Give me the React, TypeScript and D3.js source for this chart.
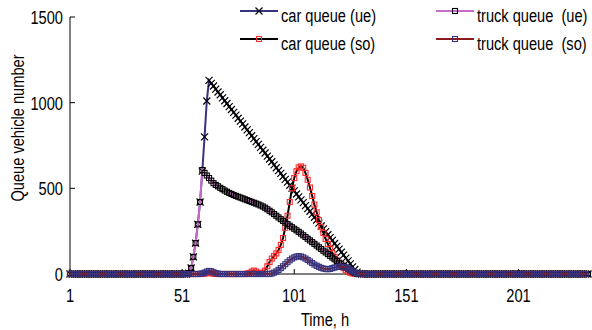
import React from 'react';
import * as d3 from 'd3';

// time axis runs 1..232 (hours); values are zero outside each series' listed segment
const tMin = 1;
const tMax = 232;
const xTicks = [1, 51, 101, 151, 201];
const yTicks = [0, 500, 1000, 1500];

const carUeStart = 54;
const carUe = [
  5, 35, 100, 180, 290, 420, 600, 800, 1010, 1130,
  1113, 1097, 1079, 1062, 1046, 1028, 1011, 995, 977, 960,
  943, 927, 909, 892, 876, 858, 841, 825, 807, 790,
  773, 757, 739, 722, 706, 688, 671, 655, 637, 620,
  603, 587, 569, 552, 536, 518, 501, 485, 467, 450,
  433, 417, 399, 382, 366, 348, 331, 315, 297, 280,
  263, 247, 229, 212, 196, 178, 161, 145, 127, 110,
  93, 77, 59, 42, 26, 11, 2,
];

const carSoStart = 60;
const carSo = [
  0, 2, 5, 6, 4, 2, 0, 0, 0, 0,
  0, 0, 0, 0, 0, 0, 0, 0, 0, 0,
  2, 6, 14, 20, 14, 6, 3, 8, 20, 45,
  70, 90, 105, 120, 140, 170, 210, 270, 340, 420,
  500, 560, 600, 622, 628, 620, 590, 550, 505, 455,
  405, 360, 315, 275, 240, 205, 175, 148, 122, 100,
  80, 62, 47, 34, 22, 13, 7, 3, 1,
];
const carSoEnd = tMax;

const truckUeStart = 54;
const truckUe = [
  5, 35, 100, 180, 290, 420, 607, 590, 575, 560,
  545, 530, 520, 512, 503, 495, 487, 480, 473, 467,
  461, 456, 451, 446, 441, 436, 431, 426, 421, 416,
  411, 406, 400, 394, 387, 378, 369, 360, 350, 340,
  330, 320, 310, 300, 291, 282, 273, 264, 255, 246,
  236, 226, 216, 206, 196, 186, 176, 166, 156, 146,
  136, 126, 116, 106, 96, 86, 76, 66, 56, 47,
  38, 30, 22, 14, 7, 2,
];

const truckSoStart = 59;
const truckSo = [
  1, 3, 8, 14, 18, 16, 10, 5, 2, 0,
  0, 0, 0, 0, 0, 0, 0, 0, 0, 0,
  0, 0, 0, 0, 0, 0, 0, 0, 0, 0,
  0, 0, 3, 8, 15, 24, 34, 45, 57, 69,
  80, 90, 97, 102, 104, 102, 97, 90, 82, 73,
  64, 55, 48, 42, 36, 32, 29, 28, 30, 34,
  38, 41, 43, 43, 41, 37, 31, 24, 16, 9,
  4, 1,
];
const truckSoEnd = tMax - 1;

const W = 592;
const H = 330;
const FONT = '"Liberation Sans", Arial, sans-serif';
const SQUEEZE = 0.77; // the original uses a condensed face

const NAVY = '#38337f';
const PINK = '#c86cc8';
const DARKRED = '#8a1a1c';
const RED = '#ff2a2a';

type Pt = { t: number; v: number };

function build(start: number, vals: number[], end: number = tMax): Pt[] {
  const out: Pt[] = [];
  for (let t = tMin; t <= end; t++) {
    const i = t - start;
    out.push({ t, v: i >= 0 && i < vals.length ? vals[i] : 0 });
  }
  return out;
}

interface Series {
  name: string;
  data: Pt[];
  line: string;
  marker: 'x' | 'sq';
  mColor: string;
}

const series: Series[] = [
  { name: 'car queue (ue)', data: build(carUeStart, carUe), line: NAVY, marker: 'x', mColor: '#000' },
  { name: 'car queue (so)', data: build(carSoStart, carSo, carSoEnd), line: '#000', marker: 'sq', mColor: RED },
  { name: 'truck queue  (ue)', data: build(truckUeStart, truckUe), line: PINK, marker: 'sq', mColor: '#000' },
  { name: 'truck queue  (so)', data: build(truckSoStart, truckSo, truckSoEnd), line: DARKRED, marker: 'sq', mColor: NAVY },
];

const Marker: React.FC<{ kind: 'x' | 'sq'; x: number; y: number; color: string }> = ({ kind, x, y, color }) =>
  kind === 'x' ? (
    <path d={`M${x - 3.5},${y - 3.5}L${x + 3.5},${y + 3.5}M${x - 3.5},${y + 3.5}L${x + 3.5},${y - 3.5}`} stroke={color} strokeWidth={1.2} fill="none" />
  ) : (
    <rect x={x - 2.5} y={y - 2.5} width={5} height={5} fill="none" stroke={color} strokeWidth={1.1} />
  );

// condensed text: squeeze horizontally around the anchor point
const NText: React.FC<{ x: number; y: number; anchor?: string; rotate?: number; children: React.ReactNode }> = ({ x, y, anchor = 'start', rotate = 0, children }) => (
  <text
    transform={`translate(${x},${y}) rotate(${rotate}) scale(${SQUEEZE},1)`}
    textAnchor={anchor}
    fontSize={19}
    style={{ whiteSpace: 'pre' }}
  >
    {children}
  </text>
);

const App: React.FC = () => {
  const x = d3.scaleLinear().domain([tMin, tMax]).range([70, 588]);
  const y = d3.scaleLinear().domain([0, 1500]).range([274, 17]);
  const line = d3.line<Pt>().x(d => x(d.t)).y(d => y(d.v));

  const legendPos = [
    { lx: 240, ly: 11 },
    { lx: 240, ly: 39 },
    { lx: 436, ly: 11 },
    { lx: 436, ly: 39 },
  ];

  return (
    <svg width={W} height={H} style={{ position: 'absolute', left: 0, top: 0, background: '#fff' }} fontFamily={FONT}>
      {/* axes */}
      <line x1={x(tMin)} x2={x(tMax)} y1={y(0)} y2={y(0)} stroke="#000" strokeWidth={1} />
      <line x1={x(tMin)} x2={x(tMin)} y1={y(0)} y2={y(1500)} stroke="#000" strokeWidth={1} />
      {xTicks.map(t => (
        <g key={`xt${t}`}>
          <line x1={x(t)} x2={x(t)} y1={y(0)} y2={y(0) - 5} stroke="#000" />
          <NText x={x(t)} y={302} anchor="middle">{t}</NText>
        </g>
      ))}
      {yTicks.map(v => (
        <g key={`yt${v}`}>
          <line x1={x(tMin)} x2={x(tMin) + 5} y1={y(v)} y2={y(v)} stroke="#000" />
          <NText x={63} y={y(v) + 7} anchor="end">{v}</NText>
        </g>
      ))}
      <NText x={325} y={326} anchor="middle">Time, h</NText>
      <NText x={24} y={128} anchor="middle" rotate={-90}>Queue vehicle number</NText>

      {/* series */}
      {series.map(s => (
        <g key={s.name}>
          <path d={line(s.data) || ''} fill="none" stroke={s.line} strokeWidth={2} />
          {s.data.map(d => (
            <Marker key={d.t} kind={s.marker} x={x(d.t)} y={y(d.v)} color={s.mColor} />
          ))}
        </g>
      ))}

      {/* legend */}
      {series.map((s, i) => {
        const p = legendPos[i];
        return (
          <g key={`lg${i}`}>
            <line x1={p.lx} x2={p.lx + 38} y1={p.ly} y2={p.ly} stroke={s.line} strokeWidth={2} />
            <Marker kind={s.marker} x={p.lx + 19} y={p.ly} color={s.mColor} />
            <NText x={p.lx + 41} y={p.ly + 11}>{s.name}</NText>
          </g>
        );
      })}
    </svg>
  );
};

export default App;
